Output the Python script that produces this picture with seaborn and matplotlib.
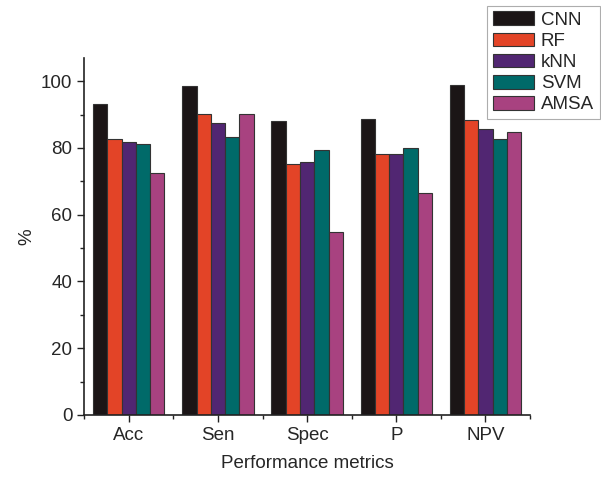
import numpy as np
import pandas as pd
import matplotlib.pyplot as plt
import seaborn as sns
from matplotlib.ticker import MultipleLocator, FixedLocator

metrics = ['Acc', 'Sen', 'Spec', 'P', 'NPV']
models = ['CNN', 'RF', 'kNN', 'SVM', 'AMSA']
cnn = [93.3, 98.7, 88.0, 88.8, 98.9]
rf = [82.6, 90.1, 75.1, 78.2, 88.3]
knn = [81.7, 87.5, 75.7, 78.1, 85.7]
svm = [81.2, 83.3, 79.3, 80.0, 82.6]
amsa = [72.4, 90.1, 54.7, 66.5, 84.7]
colors = ['#1b1516', '#e34427', '#512672', '#006a69', '#a84280']

df = pd.DataFrame({
    'metric': metrics * 5,
    'model': [m for m in models for _ in metrics],
    'value': cnn + rf + knn + svm + amsa,
})

sns.set_style('ticks')
plt.rcParams['font.family'] = ['Liberation Sans', 'DejaVu Sans']

fig = plt.figure(figsize=(6.01, 4.78), dpi=100)
ax = fig.add_axes([0.14, 0.132, 0.742, 0.747])
sns.barplot(data=df, x='metric', y='value', hue='model', order=metrics,
            hue_order=models, palette=colors, width=0.8, gap=0,
            edgecolor='#333333', linewidth=0.8, saturation=1, ax=ax)

ax.set_xlim(-0.5, 4.5)
ax.set_ylim(0, 107)
ax.yaxis.set_major_locator(MultipleLocator(20))
ax.yaxis.set_minor_locator(MultipleLocator(10))
ax.xaxis.set_minor_locator(FixedLocator(np.arange(-0.5, 5, 1)))
ax.tick_params(which='both', direction='out', color='#222222', width=1)
ax.tick_params(which='major', length=5, labelsize=13.5)
ax.tick_params(which='minor', length=3)
for s in ['left', 'bottom']:
    ax.spines[s].set_linewidth(1.2)
    ax.spines[s].set_color('#222222')
sns.despine(ax=ax)

ax.set_xlabel('Performance metrics', fontsize=13.5, labelpad=8)
ax.set_ylabel('%', fontsize=13.5, labelpad=4)

h, l = ax.get_legend_handles_labels()
ax.legend_.remove()
leg = fig.legend(h, l, loc='upper left', bbox_to_anchor=(0.811, 0.988), fontsize=13.5,
                 frameon=True, fancybox=False, edgecolor='#999999',
                 handlelength=2.2, handleheight=0.75, handletextpad=0.35,
                 labelspacing=0.2, borderpad=0.3, borderaxespad=0)
leg.get_frame().set_linewidth(0.8)

fig.savefig('out.png', dpi=100)
